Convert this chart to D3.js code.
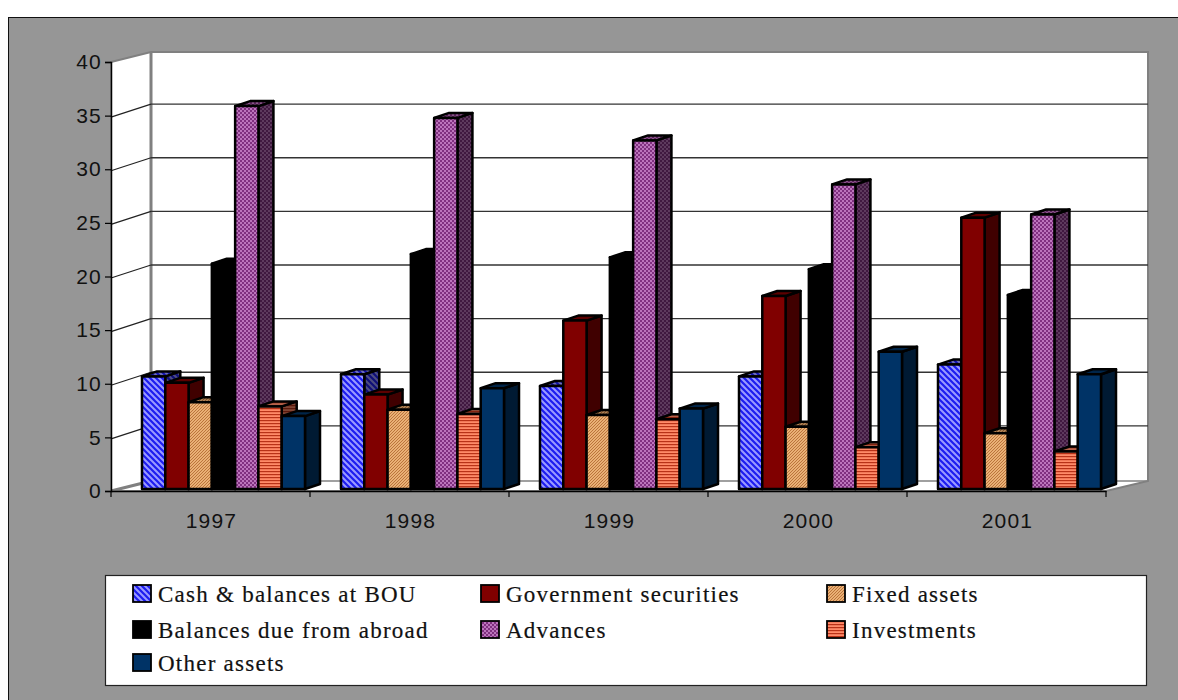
<!DOCTYPE html>
<html>
<head>
<meta charset="utf-8">
<script src="https://cdnjs.cloudflare.com/ajax/libs/d3/7.8.5/d3.min.js"></script>
<style>
html,body{margin:0;padding:0;background:#fff;overflow:hidden}
svg{display:block}
</style>
</head>
<body>
<svg id="chart" width="1178" height="700"></svg>
<script>
const years = ["1997","1998","1999","2000","2001"];
const seriesNames = ["Cash & balances at BOU","Government securities","Fixed assets","Balances due from abroad","Advances","Investments","Other assets"];
const cash = [10.5,10.7,9.6,10.5,11.6];
const government = [9.9,8.8,15.7,18.0,25.3];
const fixedAssets = [8.1,7.4,6.9,5.8,5.2];
const abroad = [21.0,21.9,21.6,20.5,18.1];
const advances = [35.7,34.6,32.5,28.4,25.6];
const investments = [7.7,7.0,6.5,3.9,3.5];
const otherAssets = [6.8,9.4,7.5,12.8,10.7];
const seriesValues = [cash,government,fixedAssets,abroad,advances,investments,otherAssets];
const yTicks = [0,5,10,15,20,25,30,35,40];

const svg = d3.select("#chart");
const defs = svg.append("defs");

// Scales on the front plane of the 3-D box
const x = d3.scaleBand().domain(years).range([111,1106]);
const y = d3.scaleLinear().domain([0,40]).range([491,62]);
const wall = {dx:40, dy:-10};      // depth of the whole box
const bar = {dx:15, dy:-5, insetX:31, span:163, floorY:-2};  // bar depth and placement

// Fill patterns: [kind, background, ink]
const fills = [
  ["diag","#9a9aff","#1c1cf0"],
  ["solid","#800000"],
  ["fine","#ffcc90","#b87038"],
  ["solid","#000000"],
  ["dots","#bc74bc","#803080"],
  ["lines","#ff8a68","#b83218"],
  ["solid","#003366"]
];
const shade = (c,k)=>{const o=d3.rgb(c);return d3.rgb(o.r*k,o.g*k,o.b*k).formatHex();};

function makeFill(id,f,k){
  const bg = shade(f[1],k);
  if(f[0]==="solid") return bg;
  const ink = shade(f[2],k);
  const size = f[0]==="diag"?6:f[0]==="fine"?3:f[0]==="dots"?4:3;
  const p = defs.append("pattern").attr("id",id).attr("patternUnits","userSpaceOnUse")
    .attr("width",size).attr("height",size);
  p.append("rect").attr("width",size).attr("height",size).attr("fill",bg);
  if(f[0]==="diag"){
    p.append("path").attr("d","M-1,1 L1,-1 M0,0 L6,6 M-1,5 L1,7 M5,-1 L7,1").attr("stroke",ink).attr("stroke-width",2.2);
  } else if(f[0]==="fine"){
    p.append("path").attr("d","M-1,1 L1,-1 M0,3 L3,0 M2,4 L4,2").attr("stroke",ink).attr("stroke-width",1.15);
  } else if(f[0]==="dots"){
    p.append("rect").attr("x",0).attr("y",0).attr("width",2).attr("height",2).attr("fill",ink);
    p.append("rect").attr("x",2).attr("y",2).attr("width",2).attr("height",2).attr("fill",ink);
  } else {
    p.append("rect").attr("y",0).attr("width",size).attr("height",1.2).attr("fill",ink);
  }
  return `url(#${id})`;
}
const faces = fills.map((f,i)=>({
  front: makeFill(`front${i}`,f,1),
  side:  makeFill(`side${i}`,f,0.5),
  top:   makeFill(`top${i}`,f,0.72)
}));

// Chart area background
svg.append("rect").attr("x",8.5).attr("y",17.5).attr("width",1180).attr("height",700)
  .attr("fill","#969696").attr("stroke","#111").attr("stroke-width",1);

// Box walls and floor
const x0 = x.range()[0], x1 = x.range()[1];
const yTop = y(40), yBase = y(0);
const wallStroke = "#808080";
svg.append("path").attr("fill","#fff").attr("stroke",wallStroke).attr("stroke-width",2)
  .attr("d",`M${x0},${yTop}L${x0+wall.dx},${yTop+wall.dy}H${x1+wall.dx+2}V${yBase+wall.dy}L${x1},${yBase}H${x0}Z`);
svg.append("path").attr("fill","none").attr("stroke",wallStroke).attr("stroke-width",3)
  .attr("d",`M${x0+wall.dx},${yTop+wall.dy}V${yBase+wall.dy}L${x0},${yBase}`);
svg.append("path").attr("fill","none").attr("stroke",wallStroke).attr("stroke-width",1.5)
  .attr("d",`M${x0+wall.dx},${yBase+wall.dy}H${x1+wall.dx+2}`);

// Gridlines running along the side wall and back wall
const grid = svg.append("g");
const gridFront = 1.5, gridBack = -11.5;
yTicks.filter(t=>t>0 && t<40).forEach(t=>{
  grid.append("line").attr("x1",x0).attr("y1",y(t)+gridFront).attr("x2",x0+wall.dx).attr("y2",y(t)+gridBack)
    .attr("stroke","#222").attr("stroke-width",1.2);
  grid.append("line").attr("x1",x0+wall.dx).attr("y1",y(t)+gridBack).attr("x2",x1+wall.dx+2).attr("y2",y(t)+gridBack)
    .attr("stroke","#333").attr("stroke-width",1.4);
});

// Bars, painted left to right so each covers its neighbour's side face
const inner = d3.scaleBand().domain(d3.range(seriesNames.length)).range([0,bar.span]);
const marks = svg.append("g").attr("stroke","#000").attr("stroke-width",2.5).attr("stroke-linejoin","round");
years.forEach((yr,g)=>{
  seriesValues.forEach((vals,s)=>{
    const l = x(yr)+bar.insetX+inner(s), r = l+inner.bandwidth();
    const t = y(vals[g])+bar.floorY, b = y(0)+bar.floorY;
    const d = marks.append("g");
    d.append("path").attr("fill",faces[s].side)
      .attr("d",`M${r},${t}L${r+bar.dx},${t+bar.dy}V${b+bar.dy}L${r},${b}Z`);
    d.append("path").attr("fill",faces[s].top)
      .attr("d",`M${l},${t}L${l+bar.dx},${t+bar.dy}H${r+bar.dx}L${r},${t}Z`);
    d.append("path").attr("fill",faces[s].front)
      .attr("d",`M${l},${t}H${r}V${b}H${l}Z`);
  });
});

// Axes
const axisFont = "'Liberation Sans',Arial,sans-serif";
const yAxis = svg.append("g").attr("transform",`translate(${x0},0)`)
  .call(d3.axisLeft(y).tickValues(yTicks).tickSize(6).tickPadding(3));
const xAxis = svg.append("g").attr("transform",`translate(0,${yBase})`)
  .call(d3.axisBottom(x).tickSize(0).tickPadding(22));
xAxis.selectAll(".tick").append("line").attr("x1",-x.bandwidth()/2).attr("x2",-x.bandwidth()/2).attr("y2",6).attr("stroke","#000");
xAxis.append("line").attr("x1",x1).attr("x2",x1).attr("y1",0).attr("y2",6).attr("stroke","#000");
[yAxis,xAxis].forEach(a=>{
  a.selectAll("text").attr("font-family",axisFont).attr("font-size",21).attr("letter-spacing",1.2).attr("fill","#111");
  a.selectAll(".domain").attr("stroke","#000").attr("stroke-width",1.5);
  a.selectAll("line").attr("stroke-width",1.2);
});
xAxis.selectAll(".tick text").attr("dx",1);

// Legend
svg.append("rect").attr("x",105.5).attr("y",575.5).attr("width",1041).attr("height",110)
  .attr("fill","#fff").attr("stroke","#222").attr("stroke-width",1.2);
const legendCols = [133,481,827];
const legendRows = [602,638,671];
const legend = svg.append("g");
seriesNames.forEach((name,i)=>{
  const cx = legendCols[i%3], by = legendRows[Math.floor(i/3)];
  legend.append("rect").attr("x",cx).attr("y",by-17).attr("width",18).attr("height",17)
    .attr("fill",faces[i].front).attr("stroke","#000").attr("stroke-width",1.8);
  legend.append("text").attr("x",cx+25).attr("y",by).text(name)
    .attr("font-family","'Liberation Serif','Times New Roman',serif")
    .attr("font-size",23).attr("letter-spacing",1.25).attr("fill","#111")
    .attr("stroke","#111").attr("stroke-width",0.2);
});
</script>
</body>
</html>
